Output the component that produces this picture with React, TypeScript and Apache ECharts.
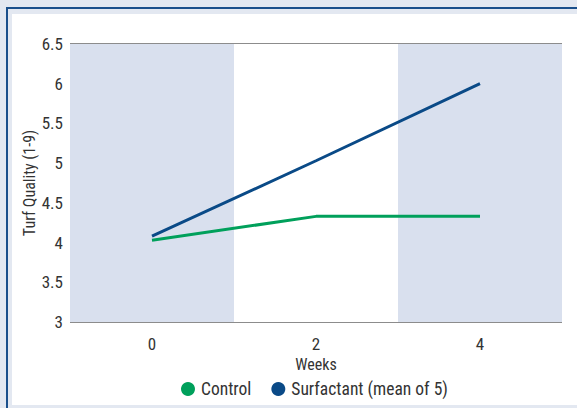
import React, { useEffect, useRef } from "react";
import * as echarts from "echarts";

const weeks = ["0", "2", "4"];
const control = [4.03, 4.33, 4.33];
const surfactant = [4.08, 5.03, 6.0];
const yTicks = [3, 3.5, 4, 4.5, 5, 5.5, 6, 6.5];

const FONT = "'Roboto Condensed', 'Liberation Sans', sans-serif";

export default function App() {
  const ref = useRef<HTMLDivElement>(null);
  useEffect(() => {
    if (!ref.current) return;
    const chart = echarts.init(ref.current, undefined, { renderer: "svg" });
    chart.setOption({
      animation: false,
      backgroundColor: "#e3e8f1",
      textStyle: { fontFamily: FONT },
      graphic: [
        { type: "rect", shape: { x: 7, y: 8, width: 580, height: 420 }, style: { fill: "none", stroke: "#1a4f8b", lineWidth: 2 }, z: -10 },
        { type: "rect", shape: { x: 12, y: 14, width: 570, height: 391 }, style: { fill: "#ffffff" }, z: -10 },
      ],
      grid: { left: 70, right: 15, top: 44, bottom: 86 },
      legend: {
        data: ["Control", "Surfactant (mean of 5)"],
        top: 375,
        left: 176,
        icon: "circle",
        itemWidth: 14,
        itemHeight: 14,
        itemGap: 20,
        textStyle: { fontSize: 17.5, color: "#333", fontFamily: FONT, padding: [0, 0, 0, 1] },
      },
      xAxis: {
        type: "category",
        data: weeks,
        boundaryGap: true,
        name: "Weeks",
        nameLocation: "middle",
        nameGap: 32,
        nameTextStyle: { fontSize: 16, color: "#333", fontFamily: FONT },
        axisLine: { show: false },
        axisTick: { show: false },
        axisLabel: { fontSize: 17, color: "#333", margin: 13, fontFamily: FONT },
        splitArea: { show: true, areaStyle: { color: ["#d9e0ee", "#ffffff"] } },
        splitLine: { show: false },
      },
      yAxis: {
        type: "value",
        min: yTicks[0],
        max: yTicks[yTicks.length - 1],
        interval: 0.5,
        name: "Turf Quality (1-9)",
        nameLocation: "middle",
        nameGap: 33,
        nameMoveOverlap: false,
        nameTextStyle: { fontSize: 16, color: "#333", fontFamily: FONT },
        axisLine: { show: false },
        axisTick: { show: false },
        axisLabel: { fontSize: 17, color: "#333", margin: 7, fontFamily: FONT },
        splitLine: { show: true, lineStyle: { color: "#666", width: 1.5 } },
      },
      series: [
        {
          name: "Control",
          type: "line",
          data: control,
          symbol: "none",
          lineStyle: { color: "#00a05b", width: 3 },
          itemStyle: { color: "#00a05b" },
        },
        {
          name: "Surfactant (mean of 5)",
          type: "line",
          data: surfactant,
          symbol: "none",
          lineStyle: { color: "#0a4a87", width: 3 },
          itemStyle: { color: "#0a4a87" },
        },
      ],
    });
    return () => chart.dispose();
  }, []);
  return <div ref={ref} style={{ position: "fixed", left: 0, top: 0, width: 577, height: 408 }} />;
}
